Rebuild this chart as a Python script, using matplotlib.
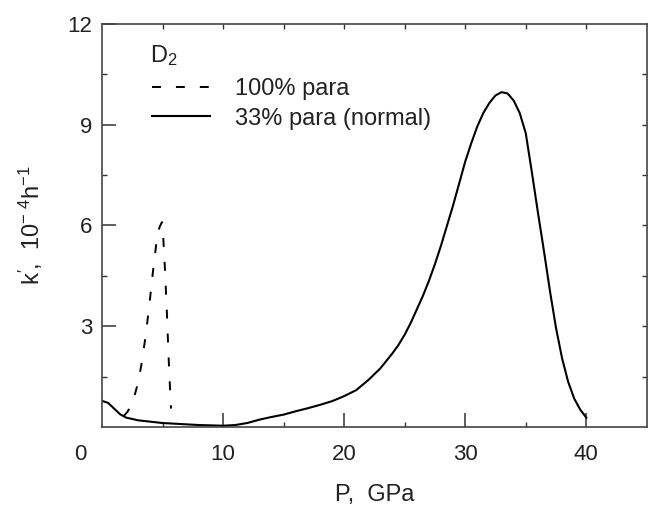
import matplotlib
matplotlib.use('Agg')
import matplotlib.pyplot as plt
import matplotlib.transforms as mtransforms

plt.rcParams['font.family'] = ['Liberation Sans', 'DejaVu Sans']
plt.rcParams['mathtext.fontset'] = 'custom'
plt.rcParams['mathtext.rm'] = 'Liberation Sans'
plt.rcParams['mathtext.it'] = 'Liberation Sans'
plt.rcParams['mathtext.default'] = 'regular'

# 33% para (normal)
pNormal = [0, 0.5, 1.0, 1.5, 2.0, 3, 4, 5, 6, 7, 8, 9, 10, 11, 12, 13, 14, 15, 16, 17, 18, 19, 20,
           21, 22, 23, 24, 24.5, 25, 25.5, 26, 26.5, 27, 27.5, 28, 28.5, 29, 29.5, 30, 30.5, 31, 31.5,
           32, 32.5, 33, 33.5, 34, 34.5, 35, 35.5, 36, 36.5, 37, 37.5, 38, 38.5, 39, 39.5, 40]
kNormal = [0.78, 0.72, 0.55, 0.38, 0.28, 0.2, 0.16, 0.12, 0.1, 0.08, 0.06, 0.05, 0.04, 0.06, 0.12, 0.22, 0.3,
           0.37, 0.47, 0.56, 0.66, 0.77, 0.92, 1.1, 1.4, 1.75, 2.2, 2.45, 2.75, 3.1, 3.5, 3.9, 4.35, 4.85,
           5.4, 6.0, 6.6, 7.25, 7.9, 8.45, 8.95, 9.35, 9.65, 9.87, 9.97, 9.93, 9.72, 9.35, 8.75, 7.6,
           6.4, 5.25, 4.05, 2.95, 2.05, 1.35, 0.85, 0.52, 0.28]

# 100% para
pPara = [1.8, 2.1, 2.4, 2.7, 3.0, 3.3, 3.6, 3.9, 4.2, 4.5, 4.75, 4.95, 5.05, 5.2, 5.35, 5.5, 5.6, 5.7]
kPara = [0.33, 0.45, 0.65, 0.95, 1.35, 1.95, 2.7, 3.6, 4.6, 5.5, 5.95, 6.1, 5.7, 4.7, 3.5, 2.1, 1.3, 0.55]

xMajor = [10, 20, 30, 40]
xMinor = [5, 15, 25, 35]
yMajor = [3, 6, 9, 12]
yMinor = [1.5, 4.5, 7.5, 10.5]

fig = plt.figure(figsize=(6.58, 5.09), dpi=100)
ax = fig.add_axes([0.155, 0.161, 0.828, 0.792])

ax.plot(pPara, kPara, c='black', lw=1.4, ls=(0, (4.6, 7.7)), label='100% para')
ax.plot(pNormal, kNormal, c='black', lw=1.5, label='33% para (normal)')

ax.set_xlim(0, 45)
ax.set_ylim(0, 12)

for s in ax.spines.values():
    s.set_color('#444444')
    s.set_linewidth(1.2)

ax.set_xticks(xMajor)
ax.set_xticks(xMinor, minor=True)
ax.set_yticks(yMajor)
ax.set_yticks(yMinor, minor=True)
ax.tick_params(which='major', direction='in', length=10, width=1.1, color='#333333',
               labelsize=16, labelcolor='#222222')
ax.tick_params(which='minor', direction='in', length=3.5, width=1.0, color='#333333')
ax.tick_params(axis='x', which='major', pad=12)
ax.tick_params(axis='y', which='major', pad=7)

top = ax.secondary_xaxis('top')
top.set_xticks([5, 10, 15, 20, 25, 30, 35, 40])
top.tick_params(direction='in', length=3.5, width=1.0, color='#333333', labeltop=False)
top.spines['top'].set_visible(False)
right = ax.secondary_yaxis('right')
right.set_yticks([1.5, 3, 4.5, 6, 7.5, 9, 10.5])
right.tick_params(direction='in', length=3.5, width=1.0, color='#333333', labelright=False)
right.spines['right'].set_visible(False)

trans = mtransforms.blended_transform_factory(ax.transData, ax.transAxes)
ax.text(-1.8, -0.042, '0', transform=trans, ha='center', va='top', fontsize=16, color='#222222')

ax.set_xlabel('P,  GPa', fontsize=17, color='#222222', labelpad=14)
ax.set_ylabel("k$'$,  10$^{-\\ 4}$h$^{-1}$", fontsize=17, color='#222222', labelpad=16)

ax.text(0.088, 0.905, 'D$_2$', transform=ax.transAxes, ha='left', va='baseline', fontsize=17,
        color='#222222')
leg = ax.legend(loc='upper left', bbox_to_anchor=(0.092, 0.866), frameon=False, fontsize=17,
                handlelength=2.45, handletextpad=1.05, labelspacing=0.33, borderpad=0,
                borderaxespad=0)
for t in leg.get_texts():
    t.set_color('#222222')

plt.savefig('out.png', dpi=100)
